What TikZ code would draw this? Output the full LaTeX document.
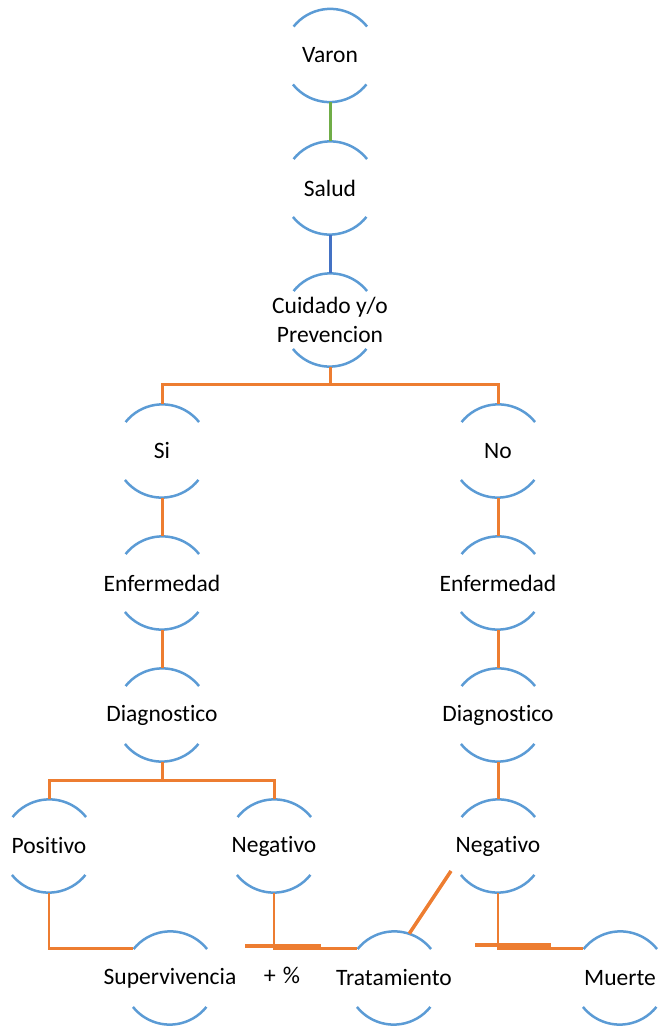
\documentclass[tikz,border=0pt]{standalone}
\usepackage{fontspec}
\setmainfont[Ligatures=NoCommon]{Carlito}
\definecolor{arcblue}{HTML}{5B9BD5}
\definecolor{lorange}{HTML}{ED7D31}
\definecolor{lgreen}{HTML}{70AD47}
\definecolor{lblue}{HTML}{4472C4}
\newcommand{\zw}[1]{\makebox[0pt][c]{#1}}
\tikzset{
  bubble/.style={circle, minimum size=94pt, inner sep=0pt, outer sep=0pt, font=\fontsize{23.5}{29}\selectfont, align=center},
  arcline/.style={draw=arcblue, line width=2.5pt},
  link/.style={draw=lorange, line width=3pt},
  thinlink/.style={draw=lorange, line width=2.5pt},
  bar/.style={draw=lorange, line width=4pt},
  lbl/.style={font=\fontsize{24}{29}\selectfont, inner sep=0pt}
}
\begin{document}
\begin{tikzpicture}[x=1pt,y=1pt]
\useasboundingbox (0,0) rectangle (658,1026);
% nodes
\node[bubble] (varon) at (330,970.5) {\zw{Varon}};
\node[bubble] (salud) at (330,838) {\zw{Salud}};
\node[bubble] (cuidado) at (330,706) {\zw{Cuidado y/o}\\\zw{Prevencion}};
\node[bubble] (si) at (162,575) {\zw{Si}};
\node[bubble] (no) at (498,575) {\zw{No}};
\node[bubble] (enf1) at (162,443) {\zw{Enfermedad}};
\node[bubble] (enf2) at (498,443) {\zw{Enfermedad}};
\node[bubble] (diag1) at (162,311) {\zw{Diagnostico}};
\node[bubble] (diag2) at (498,311) {\zw{Diagnostico}};
\node[bubble] (pos) at (49,180) {\zw{Positivo}};
\node[bubble] (neg1) at (274,180) {\zw{Negativo}};
\node[bubble] (neg2) at (498,180) {\zw{Negativo}};
\node[bubble] (sup) at (170,48) {\zw{Supervivencia}};
\node[bubble] (trat) at (394,48) {\zw{Tratamiento}};
\node[bubble] (muerte) at (620,48) {\zw{Muerte}};
\node[lbl] (pct) at (282,51) {+\hspace{7pt}\%};
% arcs
\foreach \n in {varon,salud,cuidado,si,no,enf1,enf2,diag1,diag2,pos,neg1,neg2,sup,trat,muerte}{
  \draw[arcline] (\n.38.6) arc[start angle=38.6, end angle=141.4, radius=47pt];
  \draw[arcline] (\n.218.6) arc[start angle=218.6, end angle=321.4, radius=47pt];
}
% connectors
\draw[draw=lgreen, line width=3pt] (varon.south) -- (salud.north);
\draw[draw=lblue, line width=3pt] (salud.south) -- (cuidado.north);
\coordinate (b1) at (330,641);
\draw[link] (cuidado.south) -- (b1);
\draw[link] (si.north) |- (b1) -| (no.north);
\draw[link] (si.south) -- (enf1.north);
\draw[link] (enf1.south) -- (diag1.north);
\draw[link] (no.south) -- (enf2.north);
\draw[link] (enf2.south) -- (diag2.north);
\draw[link] (diag2.south) -- (neg2.north);
\coordinate (b2) at (162,245);
\draw[link] (diag1.south) -- (b2);
\draw[link] (pos.north) |- (b2) -| (neg1.north);
\draw[thinlink] (pos.south) |- (sup.141.4);
\draw[thinlink] (neg1.south) |- (trat.141.4);
\draw[thinlink] (neg2.south) |- (muerte.141.4);
% extra bars
\coordinate (t1) at (245,80);
\coordinate (t2) at (321,80);
\draw[bar] (t1) -- (t2);
\coordinate (t3) at (475,81);
\coordinate (t4) at (551,81);
\draw[bar] (t3) -- (t4);
\coordinate (d1) at (451,155);
\draw[draw=lorange, line width=3.5pt] (d1) -- (trat.71.6);
\end{tikzpicture}
\end{document}
